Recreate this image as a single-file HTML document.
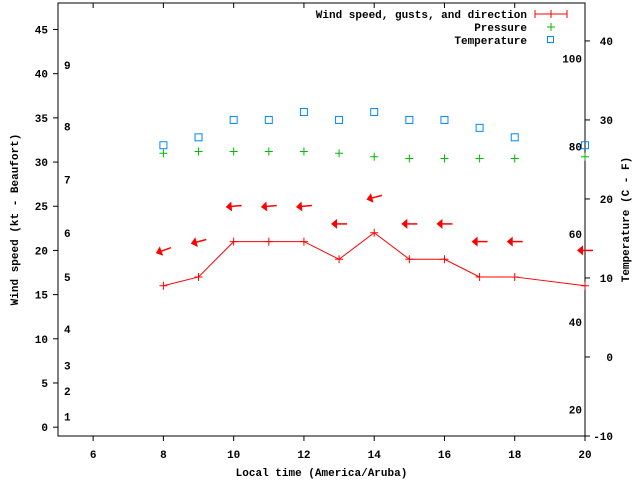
<!DOCTYPE html>
<html><head><meta charset="utf-8"><style>
body{margin:0;background:#fff}
svg text{font-family:"Liberation Mono",monospace;font-weight:bold;font-size:11px;fill:#000}
</style></head><body>
<svg id="c" width="640" height="480"></svg>
<script>
const hours=[8,9,10,11,12,13,14,15,16,17,18,20];
const windKt=[16,17,21,21,21,19,22,19,19,17,17,16];
const gustKt=[20,21,25,25,25,23,26,23,23,21,21,20];
const dirAngle=[-20,-15,-5,-5,-5,0,-15,0,0,0,0,0];
const pressure=[31.0,31.2,31.2,31.2,31.2,31.0,30.6,30.4,30.4,30.4,30.4,30.6];
const tempC=[26.8,27.8,30,30,31,30,31,30,30,29,27.8,26.8];
const xTicks=[6,8,10,12,14,16,18,20];
const yTicks=[0,5,10,15,20,25,30,35,40,45];
const y2Ticks=[-10,0,10,20,30,40];
const beaufort=[1,2,3,4,5,6,7,8,9];
const beaufortKt=[1.2,4.1,7.0,11.1,17.0,22.0,28.0,34.0,41.0];
const fahr=[20,40,60,80,100];
const L=58,R=585,T=3,B=436;
const X=v=>L+(v-5)/15*(R-L);
const Y=v=>B-(v+1)/49*(B-T);
const Y2=v=>B-(v+10)/54.8*(B-T);
const svg=document.getElementById('c');const NS='http://www.w3.org/2000/svg';
function el(t,a,txt){const e=document.createElementNS(NS,t);for(const k in a)e.setAttribute(k,a[k]);if(txt!==undefined)e.textContent=txt;svg.appendChild(e);return e;}
let e;
e=el('rect',{x:L,y:T,width:R-L,height:B-T,fill:'none',stroke:'#000','stroke-width':1});


xTicks.forEach(v=>{el('line',{x1:X(v),x2:X(v),y1:B,y2:B+5,stroke:'#000'});el('line',{x1:X(v),x2:X(v),y1:T,y2:T+5,stroke:'#000'});
e=el('text',{x:X(v),y:B+22,'text-anchor':'middle'},v);

});
yTicks.forEach(v=>{el('line',{x1:L-5,x2:L,y1:Y(v),y2:Y(v),stroke:'#000'});
e=el('text',{x:L-10,y:Y(v)+4,'text-anchor':'end'},v);

});
y2Ticks.forEach(v=>{el('line',{x1:R,x2:R+5,y1:Y2(v),y2:Y2(v),stroke:'#000'});
e=el('text',{x:R+28,y:Y2(v)+4,'text-anchor':'end'},v);

});
beaufort.forEach((v,i)=>{e=el('text',{x:64,y:Y(beaufortKt[i])+4},v);

});
fahr.forEach(v=>{e=el('text',{x:582,y:Y2((v-32)*5/9)+4,'text-anchor':'end'},v);

});
e=el('text',{x:(L+R)/2,y:476,'text-anchor':'middle'},'Local time (America/Aruba)');


e=el('text',{x:18,y:(T+B)/2,'text-anchor':'middle',transform:`rotate(-90 18 ${(T+B)/2})`},'Wind speed (kt - Beaufort)');


e=el('text',{x:629,y:(T+B)/2,'text-anchor':'middle',transform:`rotate(-90 629 ${(T+B)/2})`},'Temperature (C - F)');


e=el('polyline',{points:hours.map((h,i)=>X(h)+','+Y(windKt[i])).join(' '),fill:'none',stroke:'#f00','stroke-width':1});


hours.forEach((h,i)=>{const x=X(h),y=Y(windKt[i]);
e=el('path',{d:`M${x-4},${y}H${x+4}M${x},${y-4}V${y+4}`,stroke:'#f00'});


const gy=Y(gustKt[i]);const a=dirAngle[i];
e=el('g',{transform:`translate(${x},${gy}) rotate(${a})`});svg.appendChild(e);
e.innerHTML='<line x1="-6" y1="0" x2="8" y2="0" stroke="#f00" stroke-width="1.5"/><polygon points="-8,0 -2,-5 -2,5" fill="#f00"/>';


const py=Y(pressure[i]);
e=el('path',{d:`M${x-4},${py}H${x+4}M${x},${py-4}V${py+4}`,stroke:'#0b0'});


const ty=Y2(tempC[i]);
e=el('rect',{x:x-3.5,y:ty-3.5,width:7,height:7,fill:'none',stroke:'#08f'});

});
e=el('text',{x:527,y:18,'text-anchor':'end'},'Wind speed, gusts, and direction');


el('path',{d:'M535,14H567M535,10V18M567,10V18M551,10V18',stroke:'#f00'});
e=el('text',{x:527,y:31,'text-anchor':'end'},'Pressure');


el('path',{d:'M547,27H555M551,23V31',stroke:'#0b0'});
e=el('text',{x:527,y:44,'text-anchor':'end'},'Temperature');


el('rect',{x:547.5,y:36.5,width:6,height:6,fill:'none',stroke:'#08f'});
</script>
</body></html>
